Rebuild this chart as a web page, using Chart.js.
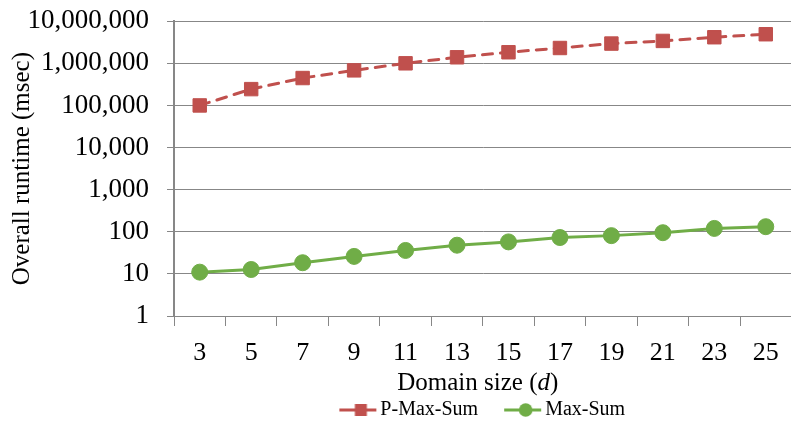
<!DOCTYPE html>
<html lang="en">
<head>
<meta charset="UTF-8">
<script src="https://cdn.jsdelivr.net/npm/chart.js"></script>
<title>Overall runtime vs domain size</title>
<style>
  html, body { margin: 0; padding: 0; background: #fff; overflow: hidden; }
  #runtimeChart { display: block; margin-top: -13px; }
</style>
</head>
<body>
<canvas id="runtimeChart" width="802" height="443"></canvas>
<script>
// values
const domainSizes = ['3', '5', '7', '9', '11', '13', '15', '17', '19', '21', '23', '25'];
const pMaxSum = [100000, 244000, 447000, 680000, 1000000, 1390000, 1830000, 2310000, 2940000, 3400000, 4160000, 4900000];
const maxSum = [11, 12.7, 18.4, 26, 36, 48, 57.5, 73, 81, 95, 120, 132];
const yTicks = [1, 10, 100, 1000, 10000, 100000, 1000000, 10000000];

const RED = '#C0504D';
const GREEN = '#70AD47';
const GRID = '#878787';
const SERIF = '"Liberation Serif", "Times New Roman", serif';

// legend icon: line with marker through it (excel style)
// drawn wider than the legend box so the line runs up to the text
function legendIcon(color, shape) {
    const c = document.createElement('canvas');
    c.width = 72; c.height = 20;
    const g = c.getContext('2d');
    g.strokeStyle = color;
    g.fillStyle = color;
    g.lineWidth = 3;
    g.beginPath(); g.moveTo(32, 10); g.lineTo(69, 10); g.stroke();
    if (shape === 'rect') {
        g.fillRect(47.5, 4, 12, 12);
    } else {
        g.beginPath(); g.arc(53.5, 10, 6.8, 0, Math.PI * 2); g.fill();
    }
    return c;
}
const icons = [legendIcon(RED, 'rect'), legendIcon(GREEN, 'circle')];

// x axis title with italic d
const italicTitle = {
    id: 'italicTitle',
    afterLayout(chart) {
        // legend sits a bit left of the plot centre in the original
        chart.legend.left -= 12;
        chart.legend.right -= 12;
    },
    afterDraw(chart) {
        const s = chart.scales.x;
        const ctx = chart.ctx;
        const size = 25, lh = 27;
        const parts = [['Domain size (', 'normal'], ['d', 'italic'], [')', 'normal']];
        ctx.save();
        ctx.textBaseline = 'middle';
        ctx.fillStyle = '#000';
        const widths = parts.map(p => { ctx.font = p[1] + ' ' + size + 'px ' + SERIF; return ctx.measureText(p[0]).width; });
        const total = widths.reduce((a, b) => a + b, 0);
        let x = (s.left + s.right) / 2 - 5 - total / 2;
        const y = s.bottom - lh / 2;
        parts.forEach((p, i) => {
            ctx.font = p[1] + ' ' + size + 'px ' + SERIF;
            ctx.fillText(p[0], x, y);
            x += widths[i];
        });
        ctx.restore();
    }
};

const ctx = document.getElementById('runtimeChart').getContext('2d');
new Chart(ctx, {
    type: 'line',
    data: {
        labels: domainSizes,
        datasets: [
            {
                label: 'P-Max-Sum',
                data: pMaxSum,
                borderColor: RED,
                backgroundColor: RED,
                borderWidth: 3,
                borderDash: [10, 8],
                borderCapStyle: 'round',
                pointStyle: 'rect',
                pointRadius: 9.5,
                pointBorderWidth: 1,
                fill: false
            },
            {
                label: 'Max-Sum',
                data: maxSum,
                borderColor: GREEN,
                backgroundColor: GREEN,
                borderWidth: 3,
                pointStyle: 'circle',
                pointRadius: 8,
                pointBorderWidth: 1,
                fill: false
            }
        ]
    },
    options: {
        responsive: false,
        animation: false,
        layout: { padding: { top: 7, right: 2, left: 0, bottom: 0 } },
        plugins: {
            tooltip: { enabled: false },
            legend: {
                position: 'bottom',
                fullSize: false,
                labels: {
                    usePointStyle: true,
                    pointStyleWidth: 54,
                    padding: 3,
                    font: { family: SERIF, size: 20 },
                    color: '#000',
                    generateLabels: chart => chart.data.datasets.map((d, i) => ({
                        text: d.label,
                        pointStyle: icons[i],
                        fillStyle: d.borderColor,
                        strokeStyle: d.borderColor,
                        fontColor: '#000',
                        lineWidth: 0,
                        hidden: false,
                        datasetIndex: i
                    }))
                }
            }
        },
        scales: {
            x: {
                offset: true,
                afterFit: s => { s.height = 81; },
                grid: { display: true, drawOnChartArea: false, offset: true, tickLength: 10, color: GRID },
                border: { color: GRID, width: 1 },
                ticks: { font: { family: SERIF, size: 26 }, color: '#000', padding: 12, maxRotation: 0, autoSkip: false },
                title: {
                    display: true,
                    text: 'Domain size (d)',
                    color: 'rgba(0,0,0,0)',
                    font: { family: SERIF, size: 25, lineHeight: 1.08 },
                    padding: 0
                }
            },
            y: {
                type: 'logarithmic',
                min: 1,
                max: 10000000,
                afterBuildTicks: s => { s.ticks = yTicks.map(v => ({ value: v })); },
                afterFit: s => { s.width = 174; },
                ticks: {
                    font: { family: SERIF, size: 27 },
                    color: '#000',
                    padding: 18,
                    autoSkip: false,
                    callback: v => Number(v).toLocaleString('en-US')
                },
                grid: { color: GRID, lineWidth: 1, tickLength: 7 },
                border: { color: GRID, width: 2 },
                title: {
                    display: true,
                    text: 'Overall runtime (msec)',
                    color: '#000',
                    font: { family: SERIF, size: 25 },
                    padding: { top: 7, bottom: 0 }
                }
            }
        }
    },
    plugins: [italicTitle]
});
</script>
</body>
</html>
